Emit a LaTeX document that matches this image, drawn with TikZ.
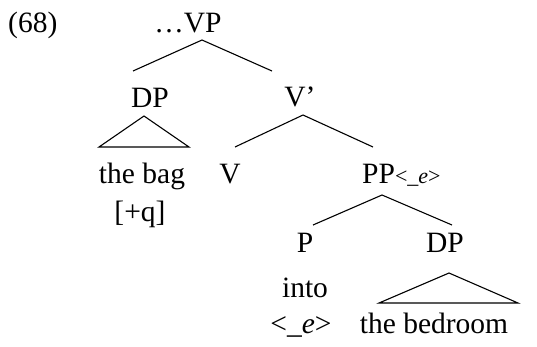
\documentclass[tikz,border=0pt]{standalone}
\usepackage{fontspec}
\setmainfont{Liberation Serif}
\begin{document}
\begin{tikzpicture}[x=1pt,y=-1pt,
  lab/.style={font=\fontsize{29.5}{31}\selectfont, inner sep=0pt, anchor=base},
  branch/.style={line width=1.1pt, black},
  tri/.style={line width=1.1pt, black, line join=miter}]
\useasboundingbox (0,0) rectangle (537,346);
% labels
\node[lab, anchor=base west] (ex) at (8,32) {(68)};
\node[lab] (vp) at (188,32) {\ldots VP};
\node[lab] (dp1) at (150,107) {DP};
\node[lab] (vbar) at (300,106) {V’};
\node[lab] (bag) at (142,183) {the bag};
\node[lab] (q) at (140,221) {[+q]};
\node[lab] (v) at (230,183) {V};
\node[lab, anchor=base west] (pp) at (362,183) {PP\raisebox{-0.5pt}{\fontsize{22}{23}\selectfont <\_\textit{e}>}};
\node[lab] (p) at (305,252) {P};
\node[lab] (dp2) at (445,252) {DP};
\node[lab] (into) at (305,297) {into};
\node[lab] (trace) at (301,333) {<\_\textit{e}>};
\node[lab] (bed) at (434,333) {the bedroom};
% branch points
\coordinate (vpT) at (202,40);
\coordinate (vpL) at (133,71);
\coordinate (vpR) at (272,71);
\coordinate (vbT) at (303,115);
\coordinate (vbL) at (235,147);
\coordinate (vbR) at (373,147);
\coordinate (ppT) at (382,195);
\coordinate (ppL) at (313,225);
\coordinate (ppR) at (452,225);
\coordinate (d1T) at (144,116);
\coordinate (d1L) at (99,147);
\coordinate (d1R) at (189,147);
\coordinate (d2T) at (449,273);
\coordinate (d2L) at (379,303);
\coordinate (d2R) at (518,303);
% branches
\draw[branch] (vpL) -- (vpT) -- (vpR);
\draw[branch] (vbL) -- (vbT) -- (vbR);
\draw[branch] (ppL) -- (ppT) -- (ppR);
\draw[tri] (d1T) -- (d1L) -- (d1R) -- cycle;
\draw[tri] (d2T) -- (d2L) -- (d2R) -- cycle;
\end{tikzpicture}
\end{document}
